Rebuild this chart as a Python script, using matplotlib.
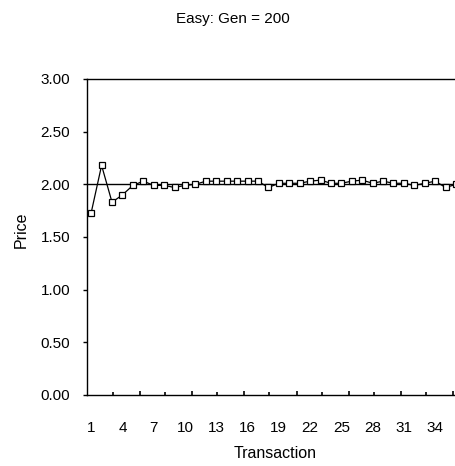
import matplotlib.pyplot as plt
import numpy as np

plt.rcParams['font.family'] = ['Liberation Sans', 'DejaVu Sans']

transaction = np.arange(1, 37)
price = [1.73, 2.18, 1.83, 1.90, 1.99, 2.03, 1.99, 1.99, 1.97, 1.99,
         2.00, 2.03, 2.03, 2.03, 2.03, 2.03, 2.03, 1.97, 2.01, 2.01,
         2.01, 2.03, 2.04, 2.01, 2.01, 2.03, 2.04, 2.01, 2.03, 2.01,
         2.01, 1.99, 2.01, 2.03, 1.97, 2.00]
equilibrium = 2.0
xtick_labels = transaction[::3]
ytick_values = np.arange(0, 3.01, 0.5)

fig = plt.figure(figsize=(4.55, 4.66), dpi=100)
ax = fig.add_axes([87 / 455, 71 / 466, 1 - 87 / 455, 316 / 466])

ax.axhline(equilibrium, color='black', lw=1.0, zorder=1)
ax.plot(transaction, price, color='black', lw=0.9, marker='s', markersize=4,
        markerfacecolor='white', markeredgecolor='black', markeredgewidth=0.9, zorder=2)

ax.set_xlim(0.6, 35.9)
ax.set_ylim(0, 3)

ax.spines['right'].set_visible(False)
for s in ['left', 'bottom', 'top']:
    ax.spines[s].set_linewidth(1.0)

# y axis
ax.set_yticks(ytick_values)
ax.set_yticklabels(['%.2f' % v for v in ytick_values])
ax.tick_params(axis='y', direction='out', length=3, width=1, pad=9, labelsize=11)

# x axis: inward marks of two sizes, labels on a secondary axis
ax.set_xticks(np.arange(5.7, 36, 5))
ax.set_xticks(np.arange(3.1, 36, 5), minor=True)
ax.tick_params(axis='x', which='major', direction='in', length=3, width=1.2, labelbottom=False)
ax.tick_params(axis='x', which='minor', direction='in', length=2, width=1.2, labelbottom=False)

sec = ax.secondary_xaxis('bottom')
sec.spines['bottom'].set_visible(False)
sec.set_xticks(xtick_labels)
sec.set_xticklabels([str(v) for v in xtick_labels])
sec.tick_params(axis='x', length=0, pad=19, labelsize=11)

fig.text(233 / 455, 1 - 19 / 466, 'Easy: Gen = 200', ha='center', va='center', fontsize=11)
fig.text(275 / 455, 1 - 453 / 466, 'Transaction', ha='center', va='center', fontsize=11.5)
fig.text(21 / 455, 1 - 230 / 466, 'Price', ha='center', va='center', rotation=90, fontsize=11.5)

plt.savefig('out.png', dpi=100)
